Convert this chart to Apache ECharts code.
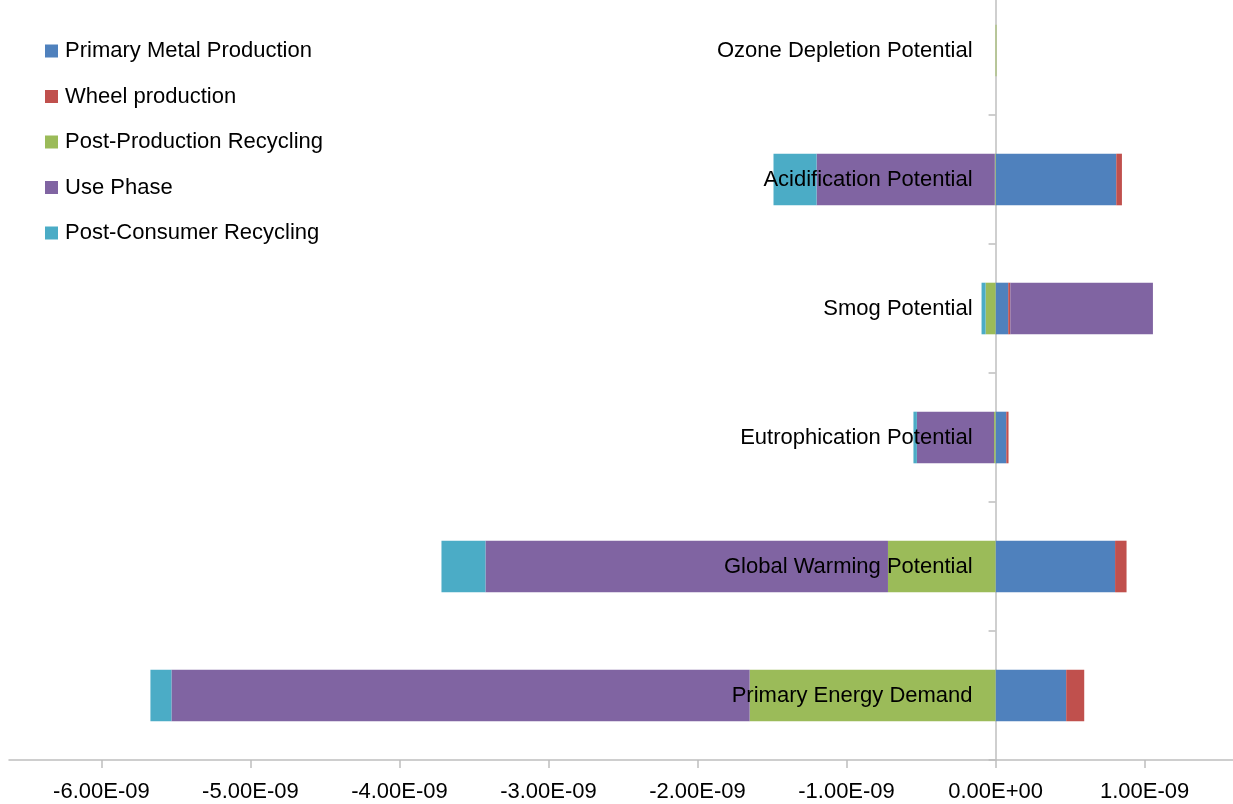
<!DOCTYPE html>
<html>
<head>
<meta charset="utf-8">
<script src="https://cdn.jsdelivr.net/npm/echarts@6/dist/echarts.min.js"></script>
<style>
  html, body { margin: 0; padding: 0; background: #fff; }
  #chart { width: 1233px; height: 804px; }
</style>
</head>
<body>
<div id="chart"></div>
<script>
// Impact categories, bottom to top
const categories = [
  'Primary Energy Demand',
  'Global Warming Potential',
  'Eutrophication Potential',
  'Smog Potential',
  'Acidification Potential',
  'Ozone Depletion Potential'
];

// Contribution of each life-cycle stage per category
const primaryMetalProduction  = [0.474e-9, 0.802e-9, 0.072e-9, 0.085e-9, 0.810e-9, 0];
const wheelProduction         = [0.121e-9, 0.077e-9, 0.015e-9, 0.014e-9, 0.038e-9, 0];
const postProductionRecycling = [-1.650e-9, -0.722e-9, -0.010e-9, -0.067e-9, -0.005e-9, 0.006e-9];
const usePhase                = [-3.880e-9, -2.701e-9, -0.518e-9, 0.957e-9, -1.196e-9, 0];
const postConsumerRecycling   = [-0.141e-9, -0.295e-9, -0.023e-9, -0.027e-9, -0.289e-9, 0];

const seriesNames = [
  'Primary Metal Production',
  'Wheel production',
  'Post-Production Recycling',
  'Use Phase',
  'Post-Consumer Recycling'
];

// Major tick positions on the value axis
const tickValues = [-6e-9, -5e-9, -4e-9, -3e-9, -2e-9, -1e-9, 0, 1e-9];

const colors = ['#4F81BD', '#C0504D', '#9BBB59', '#8064A2', '#4BACC6'];
const axisGray = '#BFBFBF';
const FONT = 'Liberation Sans';

// Scientific notation like "-6.00E-09"
function sci(v) {
  if (Math.abs(v) < 1e-20) return '0.00E+00';
  const parts = v.toExponential(2).split('e');
  const exp = parseInt(parts[1], 10);
  const sign = exp < 0 ? '-' : '+';
  const digits = String(Math.abs(exp)).padStart(2, '0');
  return parts[0] + 'E' + sign + digits;
}

const dataSets = [primaryMetalProduction, wheelProduction, postProductionRecycling, usePhase, postConsumerRecycling];

const plotBox = { right: -1, top: -14, bottom: 44, containLabel: false, outerBoundsMode: 'none' };

const chart = echarts.init(document.getElementById('chart'), null, { renderer: 'canvas' });

function buildOption(zeroX) {
  return {
    animation: false,
    color: colors,
    textStyle: { fontFamily: FONT },
    legend: {
      orient: 'vertical',
      left: 45,
      top: 40,
      padding: 0,
      itemWidth: 13,
      itemHeight: 13,
      itemGap: 23.5,
      icon: 'rect',
      data: seriesNames,
      textStyle: { fontSize: 22, lineHeight: 22, color: '#000', fontFamily: FONT, padding: [0, 0, 0, 2] }
    },
    grid: [
      Object.assign({ left: 9 }, plotBox),
      // a band starting at the zero line, carrying the category names
      Object.assign({ left: zeroX }, plotBox)
    ],
    xAxis: [
      {
        type: 'value',
        gridIndex: 0,
        min: -6.62e-9,
        max: 1.6e-9,
        splitLine: { show: false },
        axisLine: { show: true, lineStyle: { color: axisGray, width: 1.5 } },
        axisTick: { show: true, customValues: tickValues, length: 8, lineStyle: { color: axisGray, width: 1.5 } },
        axisLabel: {
          customValues: tickValues,
          formatter: sci,
          fontSize: 22,
          color: '#000',
          fontFamily: FONT,
          margin: 21
        }
      },
      {
        type: 'value',
        gridIndex: 1,
        min: 0,
        max: 1,
        show: false
      }
    ],
    yAxis: [
      {
        type: 'category',
        gridIndex: 0,
        data: categories,
        axisLine: { show: true, onZero: true, lineStyle: { color: axisGray, width: 1.5 } },
        axisTick: { show: true, inside: false, length: 7, lineStyle: { color: axisGray, width: 1.5 } },
        axisLabel: { show: false },
        splitLine: { show: false }
      },
      {
        type: 'category',
        gridIndex: 1,
        data: categories,
        z: 10,
        axisLine: { show: false, onZero: false },
        axisTick: { show: false },
        splitLine: { show: false },
        axisLabel: { fontSize: 22, color: '#000', fontFamily: FONT, margin: 23 }
      }
    ],
    series: seriesNames.map(function (name, i) {
      return {
        name: name,
        type: 'bar',
        stack: 'total',
        xAxisIndex: 0,
        yAxisIndex: 0,
        barWidth: '40%',
        data: dataSets[i],
        itemStyle: { color: colors[i] }
      };
    })
  };
}

// First pass lays out the value axis; the label band is then aligned to its zero
chart.setOption(buildOption(996));
const zeroX = chart.convertToPixel({ xAxisIndex: 0 }, 0);
chart.setOption(buildOption(zeroX));
</script>
</body>
</html>
